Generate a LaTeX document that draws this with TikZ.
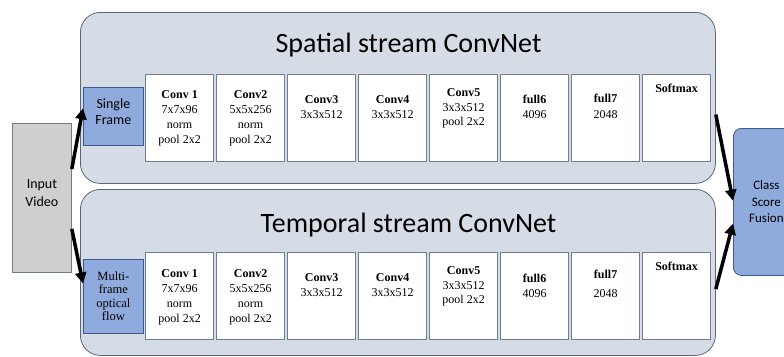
\documentclass[tikz,border=0pt]{standalone}
\usepackage{fontspec}
\setmainfont{Liberation Serif}
\newfontfamily\calibri{Carlito}
\usetikzlibrary{arrows.meta}
\definecolor{panelfill}{RGB}{214,220,229}
\definecolor{paneldraw}{RGB}{88,102,124}
\definecolor{layerdraw}{RGB}{112,126,148}
\definecolor{inblue}{RGB}{143,170,220}
\definecolor{bluedraw}{RGB}{62,88,140}
\definecolor{grayfill}{RGB}{208,206,206}
\definecolor{graydraw}{RGB}{112,122,140}

\begin{document}
\begin{tikzpicture}[x=1pt,y=-1pt,
  panel/.style={draw=paneldraw,line width=0.8pt,fill=panelfill,rounded corners=20pt,minimum width=635pt,anchor=north west},
  layer/.style={draw=layerdraw,line width=1.2pt,fill=white,minimum width=68pt,minimum height=87pt,anchor=north west,inner sep=0pt},
  ltext/.style={anchor=north,align=center,inner sep=0pt,font=\fontsize{12}{15}\selectfont},
  title/.style={anchor=base,inner sep=0pt,font=\calibri\fontsize{28}{30}\selectfont},
  inbox/.style={draw=bluedraw,line width=0.8pt,fill=inblue,minimum width=60pt,anchor=north west,align=center,inner sep=0pt},
  flow/.style={line width=3.5pt,-{Triangle[length=11pt,width=11pt]}}]
		\useasboundingbox (0,0) rectangle (784,356);

		% streams
		\path (80,12) node[panel,minimum height=171pt] (sp) {}
		(80,189) node[panel,minimum height=166pt] (tp) {};
		\path (408.5,52) node[title] (spt) {Spatial stream ConvNet}
		(408.5,232) node[title] (tpt) {Temporal stream ConvNet};

		% spatial layers
		\path (145,74) node[layer] (s1) {}
		(216,74) node[layer] (s2) {}
		(287,74) node[layer] (s3) {}
		(358,74) node[layer] (s4) {}
		(429,74) node[layer] (s5) {}
		(500,74) node[layer] (s6) {}
		(571,74) node[layer] (s7) {}
		(642,74) node[layer] (s8) {};

		\path ([yshift=-16pt]s1.north) node[ltext] (s1t) {\textbf{Conv 1}\\7x7x96\\norm\\pool 2x2}
		([yshift=-16pt]s2.north) node[ltext] (s2t) {\textbf{Conv2}\\5x5x256\\norm\\pool 2x2}
		([yshift=-21pt]s3.north) node[ltext] (s3t) {\textbf{Conv3}\\3x3x512}
		([yshift=-21pt]s4.north) node[ltext] (s4t) {\textbf{Conv4}\\3x3x512}
		([yshift=-14.5pt]s5.north) node[ltext,font=\fontsize{12}{14.5}\selectfont] (s5t) {\textbf{Conv5}\\3x3x512\\pool 2x2}
		([yshift=-21pt]s6.north) node[ltext] (s6t) {\textbf{full6}\\4096}
		([yshift=-20pt]s7.north) node[ltext,font=\fontsize{12}{16}\selectfont] (s7t) {\textbf{full7}\\2048}
		([yshift=-9.5pt]s8.north) node[ltext] (s8t) {\textbf{Softmax}};

		% temporal layers
		\path (145,252) node[layer] (t1) {}
		(216,252) node[layer] (t2) {}
		(287,252) node[layer] (t3) {}
		(358,252) node[layer] (t4) {}
		(429,252) node[layer] (t5) {}
		(500,252) node[layer] (t6) {}
		(571,252) node[layer] (t7) {}
		(642,252) node[layer] (t8) {};

		\path ([yshift=-17pt]t1.north) node[ltext] (t1t) {\textbf{Conv 1}\\7x7x96\\norm\\pool 2x2}
		([yshift=-17pt]t2.north) node[ltext] (t2t) {\textbf{Conv2}\\5x5x256\\norm\\pool 2x2}
		([yshift=-21.5pt]t3.north) node[ltext] (t3t) {\textbf{Conv3}\\3x3x512}
		([yshift=-21.5pt]t4.north) node[ltext] (t4t) {\textbf{Conv4}\\3x3x512}
		([yshift=-14.5pt]t5.north) node[ltext,font=\fontsize{12}{14.5}\selectfont] (t5t) {\textbf{Conv5}\\3x3x512\\pool 2x2}
		([yshift=-22pt]t6.north) node[ltext] (t6t) {\textbf{full6}\\4096}
		([yshift=-18pt]t7.north) node[ltext,font=\fontsize{12}{19}\selectfont] (t7t) {\textbf{full7}\\2048}
		([yshift=-9.5pt]t8.north) node[ltext] (t8t) {\textbf{Softmax}};

		% inputs and fusion
		\path (83,87) node[inbox,minimum height=58pt,font=\calibri\fontsize{14}{16}\selectfont] (sf) {Single\\Frame\\[-6pt]}
		(83,259) node[inbox,minimum height=74pt,font=\fontsize{12.5}{13.5}\selectfont] (mf) {Multi-\\frame\\optical\\flow}
		(12,123) node[draw=graydraw,line width=0.8pt,fill=grayfill,minimum width=59pt,minimum height=149pt,anchor=north west,align=center,font=\calibri\fontsize{14}{18}\selectfont] (vid) {Input\\Video\\[-8pt]}
		(733,128) node[draw=bluedraw,line width=0.8pt,fill=inblue,rounded corners=8pt,minimum width=66pt,minimum height=147pt,anchor=north west,align=center,font=\calibri\fontsize{13}{16.5}\selectfont] (fus) {Class\\Score\\Fusion};

		\draw[flow] (vid.44) -- (sf.165);
		\draw[flow] (vid.-46) -- (mf.157);
		\draw[flow] (sp.-3.5) -- (fus.178);
		\draw[flow] (tp.-3.6) -- (fus.213);
	\end{tikzpicture}
\end{document}
